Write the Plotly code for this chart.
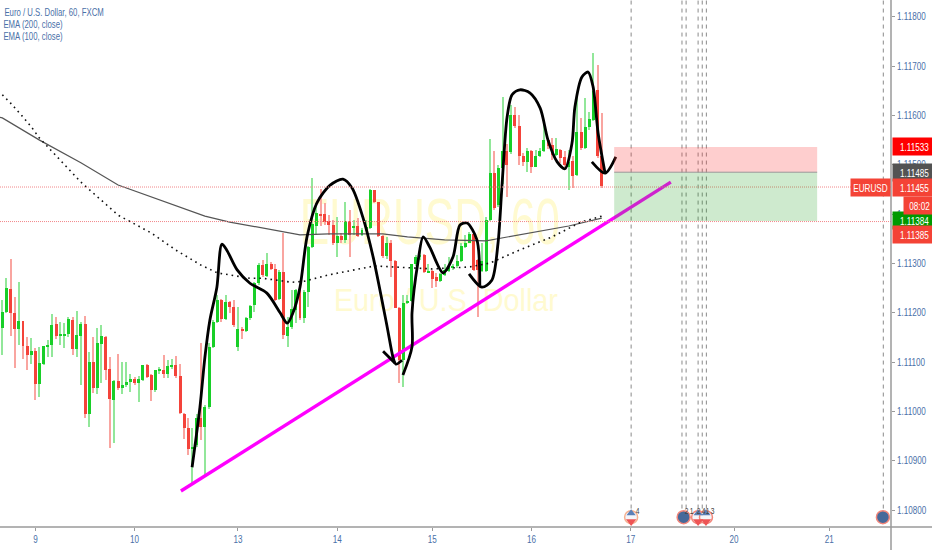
import plotly.graph_objects as go

title_lines = ["Euro / U.S. Dollar, 60, FXCM", "EMA (200, close)", "EMA (100, close)"]
title_centers = [53.5, 33, 33]

opens = [1.11170,1.11202,1.11248,1.11200,1.11167,1.11183,1.11133,1.11114,1.11122,1.11056,
1.11097,1.11131,1.11135,1.11177,1.11154,1.11154,1.11157,1.11185,1.11126,1.11154,
1.11177,1.10995,1.11101,1.11048,1.11137,1.11152,1.11086,1.11023,1.11062,1.11047,
1.11053,1.11060,1.11065,1.11057,1.11064,1.11095,1.11074,1.11043,1.11083,1.11084,
1.11076,1.11091,1.11094,1.11072,1.10996,1.10966,1.10925,1.10932,1.10986,1.10969,
1.11010,1.11131,1.11182,1.11226,1.11187,1.11221,1.11212,1.11131,1.11168,1.11163,
1.11189,1.11216,1.11260,1.11296,1.11275,1.11300,1.11289,1.11229,1.11283,1.11153,
1.11172,1.11206,1.11247,1.11189,1.11243,1.11334,1.11375,1.11400,1.11400,1.11386,
1.11379,1.11341,1.11356,1.11348,1.11387,1.11373,1.11376,1.11358,1.11367,1.11371,
1.11449,1.11424,1.11356,1.11315,1.11342,1.11306,1.11210,1.11104,1.11219,1.11225,
1.11299,1.11314,1.11317,1.11282,1.11285,1.11272,1.11265,1.11277,1.11285,1.11292,
1.11294,1.11305,1.11334,1.11342,1.11360,1.11307,1.11285,1.11285,1.11388,1.11483,
1.11419,1.11493,1.11527,1.11525,1.11600,1.11579,1.11518,1.11506,1.11527,1.11496,
1.11517,1.11527,1.11550,1.11540,1.11520,1.11531,1.11515,1.11496,1.11508,1.11479,
1.11567,1.11535,1.11576,1.11591,1.11652,1.11518]
highs = [1.11226,1.11271,1.11310,1.11233,1.11262,1.11183,1.11152,1.11149,1.11128,1.11131,
1.11133,1.11145,1.11197,1.11192,1.11182,1.11180,1.11192,1.11192,1.11204,1.11182,
1.11193,1.11121,1.11152,1.11170,1.11175,1.11153,1.11110,1.11064,1.11116,1.11101,
1.11101,1.11076,1.11070,1.11072,1.11094,1.11097,1.11077,1.11085,1.11091,1.11114,
1.11104,1.11106,1.11112,1.11097,1.10997,1.10986,1.10966,1.10995,1.11138,1.11013,
1.11138,1.11185,1.11236,1.11229,1.11236,1.11225,1.11226,1.11212,1.11172,1.11192,
1.11216,1.11263,1.11302,1.11307,1.11321,1.11304,1.11300,1.11287,1.11361,1.11192,
1.11246,1.11249,1.11249,1.11246,1.11335,1.11473,1.11422,1.11452,1.11422,1.11398,
1.11388,1.11395,1.11361,1.11425,1.11408,1.11389,1.11392,1.11371,1.11388,1.11450,
1.11449,1.11425,1.11358,1.11354,1.11348,1.11307,1.11212,1.11236,1.11236,1.11300,
1.11317,1.11337,1.11320,1.11300,1.11287,1.11280,1.11281,1.11300,1.11314,1.11300,
1.11317,1.11341,1.11358,1.11364,1.11361,1.11310,1.11341,1.11395,1.11552,1.11527,
1.11500,1.11638,1.11543,1.11621,1.11618,1.11601,1.11523,1.11534,1.11530,1.11530,
1.11534,1.11584,1.11554,1.11554,1.11554,1.11533,1.11527,1.11530,1.11517,1.11642,
1.11594,1.11635,1.11608,1.11727,1.11702,1.11604]
lows = [1.11114,1.11199,1.11154,1.11089,1.11135,1.11106,1.11085,1.11097,1.11023,1.11030,
1.11094,1.11111,1.11111,1.11148,1.11135,1.11128,1.11152,1.11114,1.11111,1.11053,
1.10986,1.10969,1.11037,1.11035,1.11057,1.11064,1.10927,1.10937,1.11043,1.11035,
1.11050,1.11040,1.11054,1.11020,1.11062,1.11067,1.11022,1.11040,1.11076,1.11067,
1.11067,1.11087,1.11067,1.10996,1.10945,1.10912,1.10854,1.10928,1.10942,1.10868,
1.11006,1.11128,1.11180,1.11182,1.11185,1.11199,1.11172,1.11123,1.11146,1.11162,
1.11185,1.11202,1.11256,1.11272,1.11273,1.11287,1.11225,1.11226,1.11148,1.11130,
1.11168,1.11179,1.11185,1.11179,1.11212,1.11331,1.11358,1.11375,1.11378,1.11358,
1.11337,1.11314,1.11341,1.11341,1.11314,1.11358,1.11354,1.11356,1.11365,1.11369,
1.11422,1.11353,1.11312,1.11310,1.11273,1.11209,1.11057,1.11050,1.11218,1.11223,
1.11294,1.11307,1.11280,1.11280,1.11250,1.11253,1.11263,1.11275,1.11283,1.11287,
1.11290,1.11304,1.11331,1.11341,1.11285,1.11192,1.11283,1.11283,1.11387,1.11408,
1.11415,1.11462,1.11435,1.11522,1.11574,1.11500,1.11498,1.11486,1.11484,1.11495,
1.11515,1.11525,1.11533,1.11510,1.11518,1.11503,1.11493,1.11449,1.11454,1.11477,
1.11530,1.11533,1.11571,1.11588,1.11513,1.11454]
closes = [1.11202,1.11250,1.11199,1.11167,1.11183,1.11133,1.11114,1.11122,1.11056,1.11099,
1.11133,1.11135,1.11175,1.11154,1.11157,1.11158,1.11187,1.11126,1.11155,1.11177,
1.10996,1.11101,1.11048,1.11138,1.11153,1.11084,1.11025,1.11062,1.11047,1.11054,
1.11060,1.11065,1.11057,1.11065,1.11094,1.11070,1.11043,1.11084,1.11085,1.11076,
1.11092,1.11094,1.11072,1.10997,1.10966,1.10925,1.10928,1.10986,1.10969,1.11010,
1.11131,1.11182,1.11226,1.11187,1.11221,1.11212,1.11175,1.11168,1.11165,1.11189,
1.11214,1.11260,1.11296,1.11277,1.11299,1.11289,1.11227,1.11283,1.11155,1.11172,
1.11207,1.11247,1.11189,1.11243,1.11334,1.11381,1.11402,1.11398,1.11385,1.11379,
1.11341,1.11356,1.11348,1.11387,1.11358,1.11376,1.11356,1.11368,1.11373,1.11449,
1.11424,1.11356,1.11315,1.11342,1.11306,1.11210,1.11104,1.11219,1.11225,1.11299,
1.11314,1.11317,1.11283,1.11285,1.11268,1.11265,1.11279,1.11287,1.11295,1.11295,
1.11306,1.11335,1.11342,1.11360,1.11287,1.11287,1.11306,1.11389,1.11483,1.11412,
1.11494,1.11527,1.11500,1.11600,1.11579,1.11517,1.11506,1.11528,1.11495,1.11518,
1.11528,1.11550,1.11538,1.11520,1.11532,1.11513,1.11500,1.11506,1.11478,1.11567,
1.11535,1.11576,1.11592,1.11650,1.11517,1.11457]

day_ticks = [8, 32, 57, 81, 104, 128, 152, 177, 200]
day_labels = ["9", "10", "13", "14", "15", "16", "17", "20", "21"]
price_ticks = [1.108, 1.109, 1.110, 1.111, 1.112, 1.113, 1.114, 1.115, 1.116, 1.117, 1.118]

ema200_x = [-1, 0, 9, 19, 28, 38, 49, 55, 63, 72, 79, 92, 98, 107, 117, 121, 129, 137, 145]
ema200_y = [1.11597,1.11595,1.11550,1.11504,1.11459,1.11429,1.11396,1.11384,1.11372,1.11358,
            1.11360,1.11360,1.11354,1.11348,1.11346,1.11352,1.11364,1.11376,1.11392]
ema100_x = [0, 2, 5, 7, 9, 19, 28, 36, 42, 48, 52, 60, 63, 70, 73, 79, 90, 96, 104, 113, 118, 125, 133, 140, 145]
ema100_y = [1.11642,1.11625,1.11597,1.11577,1.11554,1.11465,1.11398,1.11362,1.11327,1.11297,
            1.11281,1.11270,1.11270,1.11262,1.11264,1.11277,1.11295,1.11293,1.11289,1.11293,
            1.11301,1.11327,1.11354,1.11384,1.11396]

stroke_a_x = [45.9,47.8,49.0,50.2,51.9,53.1,54.3,56.8,59.9,64.0,67.2,68.9,70.3,72.0,73.7,76.1,79.3,82.4,84.6,87.2,89.7,93.1,94.5,95.2,96.7]
stroke_a_y = [1.10887,1.11009,1.11110,1.11185,1.11252,1.11339,1.11327,1.11287,1.11260,1.11240,1.11200,1.11179,1.11200,1.11252,1.11354,1.11423,1.11459,1.11471,1.11453,1.11394,1.11313,1.11171,1.11110,1.11096,1.11104]
stroke_b_x = [92.1, 95.0]
stroke_b_y = [1.11122, 1.11098]
stroke_c_x = [96.9,99.1,99.1,100.5,101.8,103.4,106.6,109.0,110.7,112.4,114.8,115.5]
stroke_c_y = [1.11074,1.11131,1.11200,1.11301,1.11354,1.11333,1.11281,1.11313,1.11378,1.11382,1.11348,1.11256]
stroke_d_x = [112.9,116.0,118.4,119.9,120.9,122.1,123.3,125.2,127.6,130.1,132.0,134.2,136.1,137.8,138.5,140.2,141.7,142.9,144.1,145.8]
stroke_d_y = [1.11279,1.11252,1.11266,1.11341,1.11463,1.11597,1.11642,1.11652,1.11646,1.11615,1.11550,1.11506,1.11492,1.11544,1.11617,1.11678,1.11688,1.11658,1.11565,1.11483]
stroke_e_x = [142.6, 145.8, 148.4]
stroke_e_y = [1.11506, 1.11483, 1.11516]
trend_x = [43.2, 161.7]
trend_y = [1.10839, 1.11465]

box_x = [148.0, 197.1]
stop_price = 1.11536
entry_price = 1.11485
target_price = 1.11386
hline_prices = [1.11455, 1.11385]
vline_x = [152.1, 164.4, 165.4, 168.3, 169.3, 170.3, 213.1]
event_x = [152.1, 164.8, 168.3, 170.2, 213.0]
event_rings = ["#f6b08f", "#f2867a", "#f2867a", "#f2867a", "#f2867a"]
event_fills = ["#f4f5fa", "#46699a", "#f4f5fa", "#f4f5fa", "#46699a"]
flag_x = [152.1, 168.3, 170.2]
event_price = 1.10786
flag_top = 1.10794
flag_bottom = 1.10777
event_numbers = ["4", "2", "1", "2", "4", "1", "3"]
event_number_x = [153.6, 165.6, 166.8, 168.3, 169.5, 170.5, 171.7]
event_number_price = 1.10798

price_labels = ["1.11533", "1.11485", "1.11455", "1.11384", "1.11385"]
label_prices = [1.11536, 1.11485, 1.11455, 1.11384, 1.11385]
label_colors = ["#ff0000", "#535353", "#f44336", "#009900", "#f44336"]
label_shifts = [1, 0, 0, 2, -13]

UP, DOWN = "#18cf28", "#f4433a"
UP_W, DOWN_W = "#92e79a", "#f9a5a0"
AXIS_BLUE = "#4a70a8"
FONT = "Liberation Sans, sans-serif"
X_RANGE = [-0.564, 214.96]
Y_RANGE = [1.10766, 1.11834]

n = range(len(opens))
fig = go.Figure()

fig.add_trace(go.Scatter(x=[103.4], y=[1.11372], mode="text", text=["EURUSD, 60"], xaxis="x", yaxis="y",
                         textfont=dict(family="Liberation Sans", size=64, color="#fffad0"), hoverinfo="skip"))
fig.add_trace(go.Scatter(x=[107.3], y=[1.11220], mode="text", text=["Euro / U.S. Dollar"], xaxis="x", yaxis="y",
                         textfont=dict(family="Liberation Sans", size=32, color="#fffad0"), hoverinfo="skip"))

fig.add_trace(go.Bar(x=list(n), base=lows, y=[h - l for h, l in zip(highs, lows)], width=0.27,
                     marker=dict(color=[UP_W if c >= o else DOWN_W for o, c in zip(opens, closes)], line_width=0),
                     xaxis="x2", yaxis="y2", hoverinfo="skip"))
fig.add_trace(go.Bar(x=list(n), base=[min(o, c) for o, c in zip(opens, closes)],
                     y=[abs(c - o) for o, c in zip(opens, closes)], width=0.72,
                     marker=dict(color=[UP if c >= o else DOWN for o, c in zip(opens, closes)], line_width=0),
                     xaxis="x2", yaxis="y2", hoverinfo="skip"))

def line(x, y, **kw):
    fig.add_trace(go.Scatter(x=x, y=y, mode="lines", xaxis="x2", yaxis="y2", hoverinfo="skip", line=kw))

line(ema200_x, ema200_y, color="#555555", width=1.2)
line(ema100_x, ema100_y, color="#111111", width=1.6, dash="1.6px,4px")
line(trend_x, trend_y, color="#ff00ff", width=3.4)
for sx, sy in [(stroke_a_x, stroke_a_y), (stroke_b_x, stroke_b_y), (stroke_c_x, stroke_c_y),
               (stroke_d_x, stroke_d_y), (stroke_e_x, stroke_e_y)]:
    line(sx, sy, color="#000000", width=2.8, shape="spline", smoothing=0.8)

fig.add_trace(go.Scatter(x=event_x, y=[event_price] * len(event_x), mode="markers", xaxis="x2", yaxis="y2",
                         hoverinfo="skip", cliponaxis=False,
                         marker=dict(size=13, color=event_fills, line=dict(color=event_rings, width=1.5))))
fig.add_trace(go.Scatter(x=flag_x, y=[flag_top] * len(flag_x), mode="markers", xaxis="x2", yaxis="y2",
                         hoverinfo="skip", marker=dict(symbol="triangle-up", size=8, color="#5b80b8")))
fig.add_trace(go.Scatter(x=flag_x, y=[flag_bottom] * len(flag_x), mode="markers", xaxis="x2", yaxis="y2",
                         hoverinfo="skip", marker=dict(symbol="triangle-down", size=9, color="#ee5555")))

shapes = []
for v in vline_x:
    shapes.append(dict(type="line", xref="x", yref="paper", x0=v, x1=v, y0=0.035, y1=1,
                       line=dict(color="#8a8a8a", width=1, dash="4px,4px")))
for p in hline_prices:
    shapes.append(dict(type="line", xref="paper", yref="y", x0=0, x1=1, y0=p, y1=p,
                       line=dict(color="#f2878a", width=1, dash="1px,1px")))
shapes.append(dict(type="rect", xref="x", yref="y", x0=box_x[0], x1=box_x[1], y0=entry_price, y1=stop_price,
                   fillcolor="rgba(250,60,60,0.25)", line_width=0))
shapes.append(dict(type="rect", xref="x", yref="y", x0=box_x[0], x1=box_x[1], y0=target_price, y1=entry_price,
                   fillcolor="rgba(30,160,30,0.22)", line_width=0))
shapes.append(dict(type="line", xref="x", yref="y", x0=box_x[0], x1=box_x[1], y0=entry_price, y1=entry_price,
                   line=dict(color="#9a9a9a", width=1)))
shapes.append(dict(type="line", xref="paper", yref="paper", x0=0, x1=932 / 891, y0=0, y1=0,
                   line=dict(color="#9a9a9a", width=1.5)))
shapes.append(dict(type="line", xref="paper", yref="paper", x0=1, x1=1, y0=-23 / 527, y1=1,
                   line=dict(color="#9a9a9a", width=1.5)))

ann = []
for i, (t, c) in enumerate(zip(title_lines, title_centers)):
    ann.append(dict(xref="paper", yref="paper", x=c / 891, y=1 - (12 + 12 * i) / 527, text=t, showarrow=False,
                    xanchor="center", yanchor="middle", font=dict(family=FONT, size=10.5, color=AXIS_BLUE)))
for t, p, c, s in zip(price_labels, label_prices, label_colors, label_shifts):
    ann.append(dict(xref="paper", yref="y", x=1, xshift=1, y=p, yshift=s, text=t, showarrow=False,
                    xanchor="left", yanchor="middle", bgcolor=c, width=41, height=15,
                    font=dict(family=FONT, size=11, color="#ffffff")))
ann.append(dict(xref="paper", yref="y", x=1, xshift=12, y=1.11455, yshift=-18, text="08:02", showarrow=False,
                xanchor="left", yanchor="middle", bgcolor="#f44336", width=29, height=15,
                font=dict(family=FONT, size=11, color="#ffffff")))
ann.append(dict(xref="paper", yref="y", x=1, y=1.11455, text="EURUSD", showarrow=False,
                xanchor="right", yanchor="middle", bgcolor="#f44336", width=37, height=15,
                font=dict(family=FONT, size=11, color="#ffffff")))
for x, t in zip(event_number_x, event_numbers):
    ann.append(dict(xref="x", yref="y", x=x, y=event_number_price, text=t, showarrow=False,
                    font=dict(family=FONT, size=9, color="#444444")))

tick_font = dict(family=FONT, size=10, color=AXIS_BLUE)
fig.update_layout(
    width=932, height=550, autosize=False, showlegend=False, barmode="overlay", bargap=0,
    paper_bgcolor="#ffffff", plot_bgcolor="#ffffff",
    margin=dict(l=0, r=41, t=0, b=23, autoexpand=False),
    shapes=shapes, annotations=ann,
    xaxis=dict(range=X_RANGE, tickmode="array", tickvals=day_ticks, ticktext=day_labels, showgrid=False,
               zeroline=False, ticks="outside", ticklen=3, tickcolor="#9a9a9a", tickfont=tick_font, fixedrange=True),
    yaxis=dict(range=Y_RANGE, side="right", tickmode="array", tickvals=price_ticks,
               ticktext=["%.5f" % p for p in price_ticks], showgrid=False, zeroline=False,
               ticks="outside", ticklen=3, tickcolor="#9a9a9a", tickfont=tick_font, fixedrange=True),
    xaxis2=dict(range=X_RANGE, overlaying="x", visible=False, fixedrange=True),
    yaxis2=dict(range=Y_RANGE, overlaying="y", visible=False, fixedrange=True),
)
# The reference uses a condensed face: squeeze the real text glyphs horizontally.
post = """
document.body.style.margin = '0';
document.documentElement.style.overflow = 'hidden';
function squeeze(sel, k) {
  document.querySelectorAll(sel).forEach(function (t) {
    var w = t.getComputedTextLength();
    t.setAttribute('lengthAdjust', 'spacingAndGlyphs');
    t.setAttribute('textLength', w * k);
  });
}
squeeze('.xtick text, .ytick text', 0.81);
squeeze('.annotation-text', 0.74);
var marks = document.querySelectorAll('.textpoint text');
[0.69, 0.9].forEach(function (k, i) {
  if (marks[i]) {
    var w = marks[i].getComputedTextLength();
    marks[i].setAttribute('lengthAdjust', 'spacingAndGlyphs');
    marks[i].setAttribute('textLength', w * k);
  }
});
"""
fig.write_html("out.html", config={"displayModeBar": False}, post_script=post)
